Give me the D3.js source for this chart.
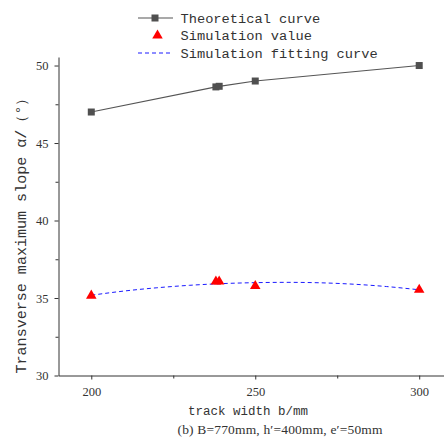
<!DOCTYPE html>
<html>
<head>
<meta charset="utf-8">
<script src="https://cdn.jsdelivr.net/npm/d3@7"></script>
<style>
  body { margin: 0; background: #fff; }
  text { fill: #333; }
</style>
</head>
<body>
<svg id="chart"></svg>
<script>
// track width b (mm) vs transverse maximum slope (deg)
const theoryX = [200, 238, 239, 250, 300];
const theoryY = [47.0, 48.62, 48.66, 49.0, 50.0];
const simX = [200, 238, 239, 250, 300];
const simY = [35.15, 36.06, 36.06, 35.77, 35.53];
// fitting curve
const fitX = [200, 210, 220, 230, 240, 250, 260, 270, 280, 290, 300];
const fitY = [35.18, 35.45, 35.66, 35.82, 35.93, 35.99, 36.01, 35.98, 35.89, 35.74, 35.53];
const xTicks = [200, 250, 300];
const yTicks = [30, 35, 40, 45, 50];
const legendLabels = ['Theoretical curve', 'Simulation value', 'Simulation fitting curve'];

const width = 444, height = 441;
const svg = d3.select('#chart').attr('width', width).attr('height', height);

const x = d3.scaleLinear().domain([190, 310]).range([58.5, 452]);
const y = d3.scaleLinear().domain([30, 50.55]).range([375.5, 57]);

const axisColor = '#333';
const numFont = '"Liberation Serif", serif';
const monoFont = '"Liberation Mono", monospace';

// minor ticks first
svg.append('g')
    .attr('transform', 'translate(0,375.5)')
    .call(d3.axisBottom(x).tickValues([225, 275]).tickSize(3).tickFormat(''))
    .call(g => g.select('.domain').remove())
    .selectAll('line').attr('stroke', axisColor);
svg.append('g')
    .attr('transform', 'translate(58.5,0)')
    .call(d3.axisLeft(y).tickValues([32.5, 37.5, 42.5, 47.5]).tickSize(3).tickFormat(''))
    .call(g => g.select('.domain').remove())
    .selectAll('line').attr('stroke', axisColor);

const xAxis = svg.append('g')
    .attr('transform', 'translate(0,375.5)')
    .call(d3.axisBottom(x).tickValues(xTicks).tickSize(4).tickSizeOuter(0).tickPadding(8));
const yAxis = svg.append('g')
    .attr('transform', 'translate(58.5,0)')
    .call(d3.axisLeft(y).tickValues(yTicks).tickSize(4).tickSizeOuter(0).tickPadding(6));

[xAxis, yAxis].forEach(a => {
    a.select('.domain').attr('stroke', axisColor);
    a.selectAll('line').attr('stroke', axisColor);
    a.selectAll('text').attr('font-family', numFont).attr('font-size', 12.5).attr('fill', '#444');
});

// theoretical curve
const theory = theoryX.map((d, i) => [d, theoryY[i]]);
svg.append('path')
    .datum(theory)
    .attr('fill', 'none')
    .attr('stroke', '#555')
    .attr('stroke-width', 1.2)
    .attr('d', d3.line().x(d => x(d[0])).y(d => y(d[1])));
svg.selectAll('.sq')
    .data(theory)
    .enter().append('rect')
    .attr('x', d => x(d[0]) - 3.5)
    .attr('y', d => y(d[1]) - 3.5)
    .attr('width', 7).attr('height', 7)
    .attr('fill', '#505050');

// fitting curve
const fit = fitX.map((d, i) => [d, fitY[i]]);
svg.append('path')
    .datum(fit)
    .attr('fill', 'none')
    .attr('stroke', '#1a1aff')
    .attr('stroke-width', 1)
    .attr('stroke-dasharray', '4,3')
    .attr('d', d3.line().curve(d3.curveMonotoneX).x(d => x(d[0])).y(d => y(d[1])));

// simulation values
const tri = d3.symbol().type(d3.symbolTriangle).size(48);
svg.selectAll('.tri')
    .data(simX.map((d, i) => [d, simY[i]]))
    .enter().append('path')
    .attr('d', tri)
    .attr('transform', d => `translate(${x(d[0])},${y(d[1])})`)
    .attr('fill', '#ff0000');

// legend
const leg = svg.append('g').attr('font-family', monoFont).attr('font-size', 13.7);
const rowY = [18, 35.5, 53];
leg.append('line').attr('x1', 138).attr('x2', 173).attr('y1', rowY[0]).attr('y2', rowY[0])
    .attr('stroke', '#555').attr('stroke-width', 1.2);
leg.append('rect').attr('x', 151.5).attr('y', rowY[0] - 3.5).attr('width', 7).attr('height', 7).attr('fill', '#505050');
leg.append('path').attr('d', tri).attr('transform', `translate(157.5,${rowY[1]})`).attr('fill', '#ff0000');
leg.append('line').attr('x1', 138).attr('x2', 173).attr('y1', rowY[2]).attr('y2', rowY[2])
    .attr('stroke', '#1a1aff').attr('stroke-width', 1).attr('stroke-dasharray', '4,3');
leg.selectAll('.lt')
    .data(legendLabels)
    .enter().append('text')
    .attr('x', 180.5)
    .attr('y', (d, i) => rowY[i] + 4.5)
    .text(d => d);

// axis titles
svg.append('text')
    .attr('transform', 'translate(26,232) rotate(-90)')
    .attr('text-anchor', 'middle')
    .attr('font-family', monoFont)
    .attr('font-size', 14)
    .attr('textLength', 283)
    .attr('lengthAdjust', 'spacingAndGlyphs')
    .text('Transverse maximum slope α/（°）');

svg.append('text')
    .attr('x', 248).attr('y', 414.5)
    .attr('text-anchor', 'middle')
    .attr('font-family', monoFont)
    .attr('font-size', 12.5)
    .text('track width b/mm');

svg.append('text')
    .attr('x', 280).attr('y', 434)
    .attr('text-anchor', 'middle')
    .attr('font-family', numFont)
    .attr('font-size', 13.5)
    .attr('textLength', 205)
    .attr('lengthAdjust', 'spacing')
    .text('(b)  B=770mm, h′=400mm, e′=50mm');
</script>
</body>
</html>
